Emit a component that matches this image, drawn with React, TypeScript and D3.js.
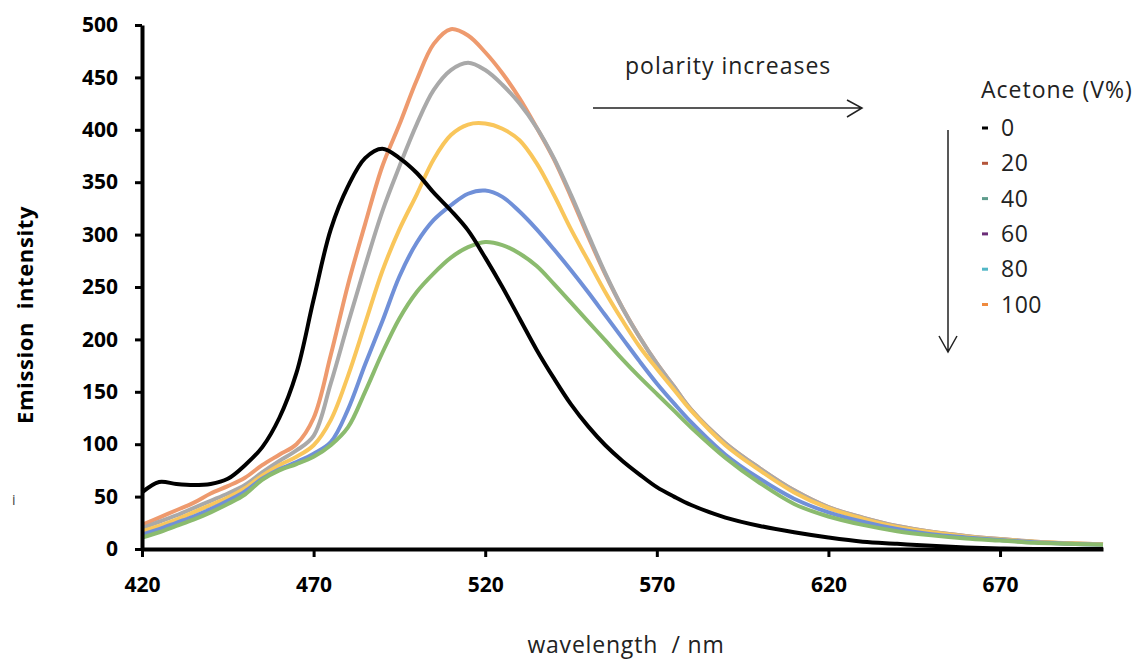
import * as d3 from 'd3';
import { useRef, useEffect } from 'react';

// wavelength grid (nm)
const wavelengths = [
  420, 425, 430, 435, 440, 445, 450, 455, 460, 465, 470, 475, 480, 485, 490, 495, 500,
  505, 510, 515, 520, 525, 530, 535, 540, 545, 550, 555, 560, 565, 570, 575, 580,
  590, 600, 610, 620, 630, 640, 650, 660, 670, 680, 690, 700,
];

// emission intensity, one array per curve
const curveBlack = [
  54, 64, 62, 61, 62, 67, 80, 97, 125, 168, 238, 305, 346, 373, 382, 373, 359,
  340, 323, 304, 278, 250, 220, 190, 163, 138, 117, 99, 84, 71, 59, 50, 42,
  30, 22, 16, 11, 7, 5, 3, 1.5, 0.5, 0, 0, 0,
];
const curveOrange = [
  23, 30, 37, 44, 53, 60, 68, 80, 90, 100, 125, 185, 252, 310, 365, 405, 447,
  482, 496, 490, 474, 454, 430, 402, 372, 336, 298, 262, 230, 202, 177, 155, 133,
  101, 77, 56, 40, 30, 22, 16.5, 12.5, 9.5, 7, 5.5, 4.5,
];
const curveGray = [
  20, 26, 32, 39, 46, 53, 61, 73, 84, 94, 108, 158, 215, 270, 322, 365, 405,
  438, 457, 464, 457, 443, 425, 402, 373, 338, 300, 263, 230, 202, 177, 155, 133,
  101, 77, 56, 40, 30, 22, 16.5, 12.5, 9.5, 7, 5.5, 4.5,
];
const curveYellow = [
  17, 22, 28, 35, 42, 49, 58, 70, 80, 88, 99, 123, 165, 215, 265, 305, 338,
  372, 395, 405, 406, 401, 390, 368, 338, 305, 275, 245, 218, 193, 172, 152, 132,
  99, 75, 54, 39, 29, 21, 16, 12, 9, 7, 5.5, 4.5,
];
const curveBlue = [
  14, 19, 25, 31, 38, 46, 55, 67, 76, 83, 91, 102, 133, 176, 217, 260, 292,
  314, 328, 339, 342, 336, 322, 305, 286, 266, 245, 223, 201, 179, 158, 139, 121,
  90, 67, 48, 35, 26, 19, 14, 11, 8.5, 6.5, 5, 4,
];
const curveGreen = [
  11, 16, 22, 28, 35, 43, 52, 66, 75, 81, 88, 99, 116, 150, 187, 220, 245,
  263, 278, 288, 293, 290, 282, 270, 253, 235, 217, 199, 181, 164, 148, 132, 116,
  87, 63, 43, 31, 23, 17, 13, 10, 8, 6, 5, 4,
];

const curves = [
  { values: curveOrange, color: '#ee9a6e' },
  { values: curveGray, color: '#a9a9a9' },
  { values: curveYellow, color: '#f9c65b' },
  { values: curveBlue, color: '#7090d8' },
  { values: curveGreen, color: '#8bbb6e' },
  { values: curveBlack, color: '#000000' },
];

const legendLabels = ['0', '20', '40', '60', '80', '100'];
const legendColors = ['#000000', '#b4553a', '#5e9c8c', '#6b2d78', '#52b7c6', '#ef8a3e'];

const xTicks = [420, 470, 520, 570, 620, 670];
const yTicks = [0, 50, 100, 150, 200, 250, 300, 350, 400, 450, 500];

function SpectraChart({ width = 1140, height = 660 }) {
  const svgRef = useRef<SVGSVGElement>(null);

  useEffect(() => {
    const svg = d3.select(svgRef.current);
    svg.selectAll('*').remove();
    svg.attr('width', width).attr('height', height);

    const x = d3.scaleLinear().domain([420, 700]).range([142, 1103]);
    const y = d3.scaleLinear().domain([0, 500]).range([549, 25]);

    const font = "'Open Sans', 'DejaVu Sans', sans-serif";

    // curves
    const line = d3.line<number>()
      .x((_, i) => x(wavelengths[i]))
      .y(d => y(Math.max(0, d)))
      .curve(d3.curveCatmullRom.alpha(0.5));

    svg.append('g')
      .selectAll('path')
      .data(curves)
      .enter()
      .append('path')
      .attr('d', d => line(d.values))
      .attr('fill', 'none')
      .attr('stroke', d => d.color)
      .attr('stroke-width', 4)
      .attr('stroke-linejoin', 'round');

    // axes
    const xAxis = svg.append('g')
      .attr('transform', `translate(0,${y(0)})`)
      .call(d3.axisBottom(x).tickValues(xTicks).tickSize(8).tickSizeOuter(0).tickPadding(20));
    const yAxis = svg.append('g')
      .attr('transform', `translate(${x(420)},0)`)
      .call(d3.axisLeft(y).tickValues(yTicks).tickSize(7).tickSizeOuter(0).tickPadding(17));

    [xAxis, yAxis].forEach(g => {
      g.select('.domain').attr('stroke', '#000').attr('stroke-width', 4);
      g.selectAll('.tick line').attr('stroke', '#000').attr('stroke-width', 3);
      g.selectAll('.tick text')
        .attr('fill', '#000')
        .style('font-family', font)
        .style('font-weight', 700)
        .style('font-size', '21px');
    });

    // axis titles
    svg.append('text')
      .attr('transform', 'translate(33,315) rotate(-90)')
      .attr('text-anchor', 'middle')
      .style('font-family', font)
      .style('font-weight', 700)
      .style('font-size', '22px')
      .style('letter-spacing', '0.6px')
      .style('white-space', 'pre')
      .attr('fill', '#000')
      .text('Emission  intensity');

    svg.append('text')
      .attr('x', 626)
      .attr('y', 653)
      .attr('text-anchor', 'middle')
      .style('font-family', font)
      .style('font-size', '23px')
      .style('letter-spacing', '0.8px')
      .style('white-space', 'pre')
      .attr('fill', '#222')
      .text('wavelength  / nm');

    svg.append('text')
      .attr('x', 12)
      .attr('y', 505)
      .style('font-family', font)
      .style('font-size', '14px')
      .attr('fill', '#444')
      .text('i');

    // annotation arrows
    svg.append('text')
      .attr('x', 625)
      .attr('y', 74)
      .style('font-family', font)
      .style('font-size', '23px')
      .style('letter-spacing', '1px')
      .attr('fill', '#222')
      .text('polarity increases');

    const arrow = svg.append('g')
      .attr('fill', 'none')
      .attr('stroke', '#222')
      .attr('stroke-width', 1.5);
    arrow.append('path').attr('d', 'M593,108 L862,108 M847,100 L862,108 L847,117');
    arrow.append('path').attr('d', 'M948,130 L948,352 M939,336 L948,352 L957,336');

    // legend
    const legend = svg.append('g').style('font-family', font).attr('fill', '#222');
    legend.append('text')
      .attr('x', 981)
      .attr('y', 98)
      .style('font-size', '23px')
      .style('letter-spacing', '1px')
      .text('Acetone (V%)');

    const rows = legend.selectAll('g.row')
      .data(legendLabels)
      .enter()
      .append('g')
      .attr('class', 'row')
      .attr('transform', (_, i) => `translate(0,${128 + i * 35.3})`);
    rows.append('rect')
      .attr('x', 982)
      .attr('y', -1.5)
      .attr('width', 6)
      .attr('height', 3)
      .attr('fill', (_, i) => legendColors[i]);
    rows.append('text')
      .attr('x', 1001)
      .attr('dy', '0.35em')
      .style('font-size', '23px')
      .style('letter-spacing', '0.5px')
      .text(d => d);
  }, [width, height]);

  return <svg ref={svgRef} style={{ position: 'absolute', left: 0, top: 0, background: '#fff' }}></svg>;
}

export default function App() {
  return <SpectraChart />;
}
